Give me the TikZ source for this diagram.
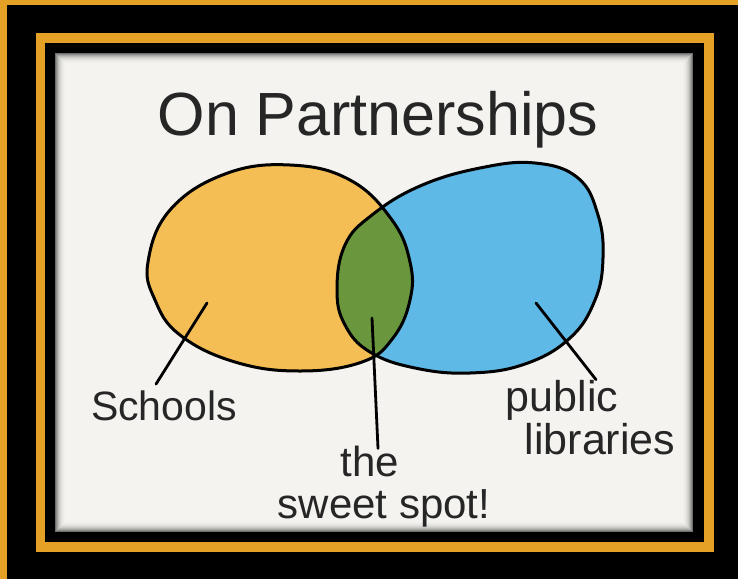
\documentclass[tikz,border=0pt]{standalone}
\usepackage{fontspec}
\setmainfont{Liberation Sans}
\definecolor{framegold}{HTML}{E5A026}
\definecolor{paper}{HTML}{F4F3F0}
\definecolor{schoolorange}{HTML}{F5BE55}
\definecolor{libraryblue}{HTML}{5EB9E6}
\definecolor{sweetgreen}{HTML}{6A963E}
\begin{document}
\begin{tikzpicture}[x=1pt,y=-1pt,line join=round]
\tikzstyle{blob}=[draw,line width=3pt]
\tikzstyle{pointer}=[draw,line width=2.8pt,line cap=round]
\tikzstyle{handtext}=[inner sep=0pt,anchor=base,text=black!85,font=\fontsize{42}{42}\selectfont]
\def\schoolsshape{plot[smooth cycle,tension=0.7] coordinates {(148,262) (170,210) (225,174) (290,165) (350,180) (392,220) (410,262) (410,300) (393,338) (362,362) (300,371) (235,362) (180,335) (155,300)}}
\def\libraryshape{plot[smooth cycle,tension=0.7] coordinates {(337,290) (345,245) (372,215) (420,186) (480,168) (535,163) (578,178) (598,215) (603,258) (595,300) (570,338) (525,364) (470,373) (415,368) (370,352) (345,325)}}
\useasboundingbox (0,0) rectangle (738,579);

% frame
\fill[black] (0,0) rectangle (738,579);
\fill[framegold] (0,0) rectangle (738,5);
\fill[framegold] (0,0) rectangle (7,579);
\fill[framegold] (36,33) rectangle (714,552);
\fill[black] (45,43) rectangle (704,542);
\fill[paper] (55,53) rectangle (693,532);
\foreach \i/\c in {0/55,1/42,2/32,3/24,4/17,5/12,6/8,7/5,8/3,9/1}
  \draw[black!\c!paper,line width=1pt] (55.5+\i,53.5+\i) rectangle (692.5-\i,531.5-\i);

% circles
\fill[schoolorange] \schoolsshape;
\fill[libraryblue] \libraryshape;
\begin{scope}
\clip \schoolsshape;
\fill[sweetgreen] \libraryshape;
\end{scope}
\draw[blob] \schoolsshape;
\draw[blob] \libraryshape;

\node[handtext,font=\fontsize{61}{61}\selectfont] (title) at (378,135) {On Partnerships};
\node[handtext,font=\fontsize{41}{41}\selectfont] (schools) at (164,420) {Schools};
\node[handtext,font=\fontsize{43}{43}\selectfont] (public) at (562,411) {public};
\node[handtext,font=\fontsize{43}{43}\selectfont] (libraries) at (600,454) {libraries};
\node[handtext] (the) at (370,476) {the};
\node[handtext] (sweet) at (384,518) {sweet spot!};

\coordinate (schoolsin) at (207,303);
\coordinate (sweetin) at (372,318);
\coordinate (libraryin) at (536,303);

\draw[pointer] (schoolsin) -- ([xshift=-8pt,yshift=6pt]schools.north);
\draw[pointer] (sweetin) -- ([xshift=8pt,yshift=-3pt]the.north);
\draw[pointer] (libraryin) -- ([xshift=34pt,yshift=0pt]public.north);
\end{tikzpicture}
\end{document}
